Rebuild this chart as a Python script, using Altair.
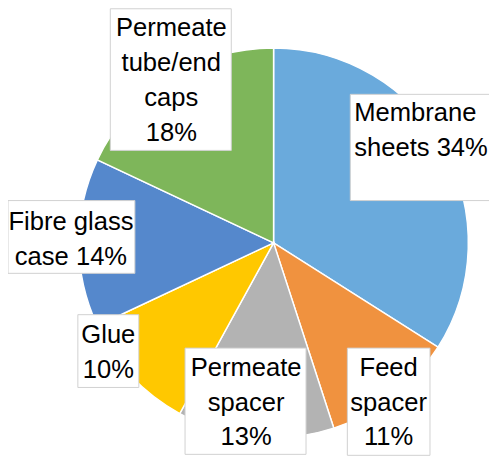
import altair as alt
import pandas as pd

# ---- data ----
categories = ["Membrane sheets", "Feed spacer", "Permeate spacer", "Glue",
              "Fibre glass case", "Permeate tube/end caps"]
values = [34, 11, 13, 10, 14, 18]
colors = ["#6AAADC", "#F0923F", "#B3B3B3", "#FFC800", "#5588CC", "#7EB65A"]
label_lines = ["Membrane\nsheets 34%", "Feed\nspacer\n11%", "Permeate\nspacer\n13%",
               "Glue\n10%", "Fibre glass\ncase 14%", "Permeate\ntube/end\ncaps\n18%"]

# ---- layout (label boxes, pixels) ----
box_x = [348, 345, 180, 71, 0, 104]
box_x2 = [495, 429, 303, 133, 129, 227]
box_y = [84, 342, 342, 308, 192, -3]
box_y2 = [192, 451, 450, 382, 266, 141]
txt_x = [352, 387, 242, 102, 64, 166]
txt_y = [103, 362, 362, 329, 214, 17]
txt_align = ["left", "center", "center", "center", "center", "center"]

W, H = 489, 453
CX, CY, R = 270, 235, 198
FONT = "Liberation Sans"

df = pd.DataFrame({"category": categories, "value": values,
                   "order": list(range(len(categories)))})

pie = alt.Chart(df).mark_arc(outerRadius=R, stroke="white", strokeWidth=1.5).encode(
    theta=alt.Theta("value:Q", stack=True),
    order=alt.Order("order:Q"),
    color=alt.Color("category:N", scale=alt.Scale(domain=categories, range=colors), legend=None),
    x=alt.value(CX),
    y=alt.value(CY),
)

lab = pd.DataFrame({"label": label_lines, "bx": box_x, "bx2": box_x2, "by": box_y,
                    "by2": box_y2, "tx": txt_x, "ty": txt_y, "al": txt_align})

boxes = alt.Chart(lab).mark_rect(fill="white", stroke="#D0D0D0", strokeWidth=1).encode(
    x=alt.X("bx:Q", scale=None), x2="bx2:Q",
    y=alt.Y("by:Q", scale=None), y2="by2:Q",
)

texts_c = alt.Chart(lab).transform_filter(alt.datum.al == "center").mark_text(
    font=FONT, fontSize=26, lineBreak="\n", lineHeight=35.5, baseline="middle",
    align="center", color="black"
).encode(
    x=alt.X("tx:Q", scale=None), y=alt.Y("ty:Q", scale=None), text="label:N"
)
texts_l = alt.Chart(lab).transform_filter(alt.datum.al == "left").mark_text(
    font=FONT, fontSize=26, lineBreak="\n", lineHeight=35.5, baseline="middle",
    align="left", color="black"
).encode(
    x=alt.X("tx:Q", scale=None), y=alt.Y("ty:Q", scale=None), text="label:N"
)

chart = alt.layer(pie, boxes, texts_c, texts_l).properties(
    width=W, height=H, padding=0, autosize=alt.AutoSizeParams(type="none")
).configure_view(stroke=None)

chart.save("out.html", embed_options={"renderer": "svg", "actions": False})
